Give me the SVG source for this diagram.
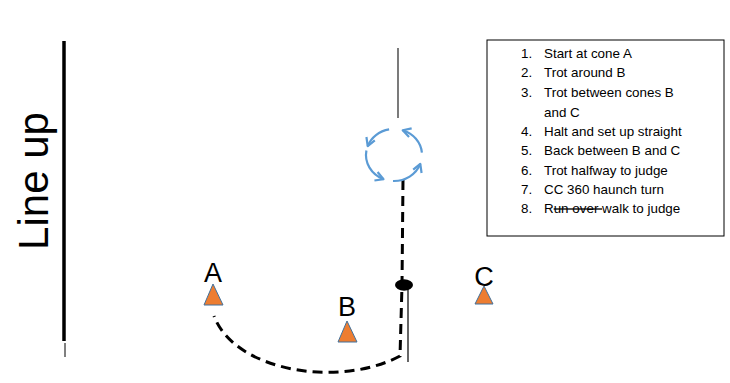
<svg xmlns="http://www.w3.org/2000/svg" width="730" height="383" viewBox="0 0 730 383">
<style>
.lbl{font-family:"Liberation Sans",Arial,sans-serif;fill:#000}
.cone{fill:#ED7D31;stroke:#41719C;stroke-width:1}
.rot{fill:none;stroke:#5B9BD5;stroke-width:2.2;marker-end:url(#ah)}
.list{font-family:"Liberation Sans",Arial,sans-serif;font-size:13.4px;fill:#000}
.path{fill:none;stroke:#000;stroke-width:3;stroke-dasharray:10 6}
</style>
<defs>
<marker id="ah" markerUnits="userSpaceOnUse" markerWidth="14" markerHeight="14" refX="0" refY="0" viewBox="-10 -7 14 14" orient="auto" overflow="visible">
<path d="M-8,-4.5 L0,0 L-8,4.5" fill="none" stroke="#5B9BD5" stroke-width="2.2" stroke-linejoin="round"/>
</marker>
</defs>
<rect width="730" height="383" fill="#fff"/>
<g id="lineup">
<line x1="64" y1="41" x2="64" y2="341" stroke="#000" stroke-width="3.5"/>
<line x1="65" y1="343" x2="65" y2="357" stroke="#000" stroke-width="1"/>
<text class="lbl" font-size="42" text-anchor="middle" transform="translate(48,181) rotate(-90)">Line up</text>
</g>
<g id="connectors">
<line x1="398" y1="48" x2="398" y2="118" stroke="#222" stroke-width="1.2"/>
<path class="path" d="M403,180 L402,285 L400,356 C340,388 235,372 214,316"/>
<line x1="408" y1="285" x2="408" y2="362" stroke="#000" stroke-width="1.2"/>
</g>
<g id="turn">
<path class="rot" d="M389.1,129.4 A28,26 0 0 0 367.7,146.1"/>
<path class="rot" d="M366.4,150.5 A28,26 0 0 0 383.5,179.1"/>
<path class="rot" d="M393,181 A28,26 0 0 0 420.3,163.9"/>
<path class="rot" d="M421.9,152.7 A28,26 0 0 0 402.7,130.3"/>
</g>
<g id="halt">
<ellipse cx="404" cy="285" rx="9" ry="5.7" fill="#000"/>
</g>
<g id="coneA">
<text class="lbl" x="213" y="282" font-size="27" text-anchor="middle">A</text>
<polygon class="cone" points="213,284 204,305 223,305"/>
</g>
<g id="coneB">
<text class="lbl" x="347" y="316" font-size="27" text-anchor="middle">B</text>
<polygon class="cone" points="347,321 338,342 357,342"/>
</g>
<g id="coneC">
<text class="lbl" x="484" y="286" font-size="27" text-anchor="middle">C</text>
<polygon class="cone" points="484,286 475,304 493,304"/>
</g>
<g id="steps">
<rect x="487" y="40" width="237" height="196" fill="#fff" stroke="#000" stroke-width="1"/>
<g class="list">
<text x="521" y="58">1.</text><text x="544" y="58">Start at cone A</text>
<text x="521" y="77">2.</text><text x="544" y="77">Trot around B</text>
<text x="521" y="97">3.</text><text x="544" y="97">Trot between cones B</text>
<text x="544" y="117">and C</text>
<text x="521" y="136">4.</text><text x="544" y="136">Halt and set up straight</text>
<text x="521" y="155">5.</text><text x="544" y="155">Back between B and C</text>
<text x="521" y="175">6.</text><text x="544" y="175">Trot halfway to judge</text>
<text x="521" y="194">7.</text><text x="544" y="194">CC 360 haunch turn</text>
<text x="521" y="213">8.</text><text x="544" y="213">R<tspan text-decoration="line-through" style="text-decoration:line-through">un over </tspan>walk to judge</text>
</g>
</g>
</svg>
